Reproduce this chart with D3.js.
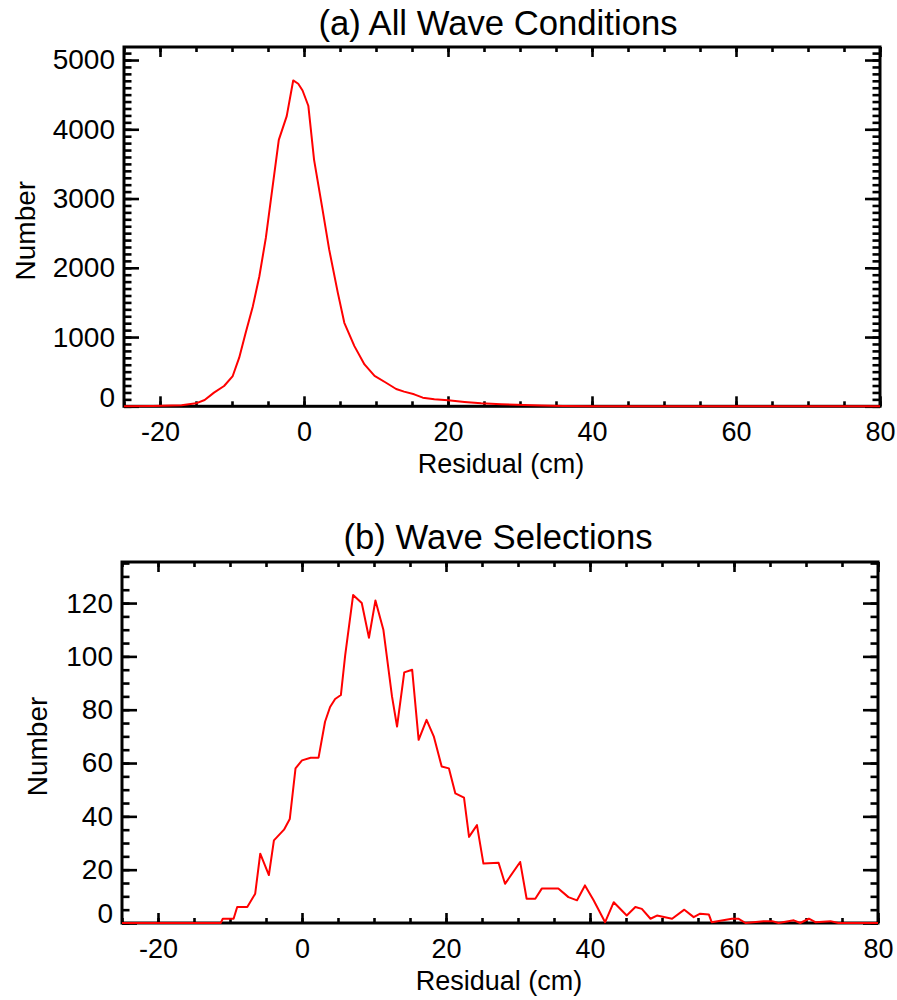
<!DOCTYPE html>
<html>
<head>
<meta charset="utf-8">
<script src="https://cdn.jsdelivr.net/npm/d3@7"></script>
<style>
body { margin: 0; background: #fff; }
text { font-family: "Liberation Sans", Arial, sans-serif; fill: #000; }
</style>
</head>
<body>
<div id="content"></div>
<script>
// (a) all wave conditions
var allResidual = [-25, -21, -17, -15, -13.8, -12.5, -11.1, -9.9, -9.0, -8.1, -7.1, -6.2, -5.3, -4.6, -3.5,
	-2.4, -1.5, -0.8, -0.2, 0.6, 1.4, 2.5, 3.5, 4.7, 5.6, 7.0, 8.4, 9.8, 11.4, 12.8, 13.9, 15.3,
	16.5, 18.1, 20, 22.3, 24.6, 27.4, 30.6, 33, 36, 40, 80];
var allCount = [0, 5, 15, 43, 91, 197, 293, 437, 702, 1062, 1446, 1878, 2431, 2983, 3847,
	4190, 4705, 4657, 4560, 4340, 3559, 2886, 2262, 1638, 1206, 869, 605, 440, 340, 250, 212, 173,
	125, 101, 86, 62, 43, 29, 19, 10, 3, 0, 0];

// (b) wave selections
var selResidual = [-25, -11.3, -11.0, -9.5, -9.0, -7.6, -6.5, -5.8, -4.6, -3.9, -2.5, -1.7, -0.9, 0, 1.2,
	2.3, 3.2, 3.9, 4.6, 5.4, 6.0, 7.1, 8.3, 9.3, 10.2, 11.3, 12.5, 13.2, 14.2, 15.3, 16.2, 17.3,
	18.3, 19.4, 20.4, 21.3, 22.5, 23.2, 24.3, 25.2, 27.3, 28.2, 30.3, 31.2, 32.4, 33.3, 35.6, 37.0,
	38.2, 39.3, 40.5, 42.1, 43.3, 45.1, 46.3, 47.2, 48.4, 49.3, 51.4, 53.1, 54.4, 55.3, 56.5, 56.9,
	59.7, 60.6, 61.6, 64.1, 65.3, 66.2, 68.3, 69.2, 70.4, 71.3, 73.4, 74.5, 80];
var selCount = [0, 0, 1.6, 1.6, 6, 6, 11, 26, 18, 31, 35, 39, 58, 61, 62,
	62, 75.5, 81, 84, 85.5, 100.5, 123, 120, 107, 121, 110, 85, 73.7, 94, 95, 68.7, 76.2,
	70, 58.7, 58, 48.6, 47, 32.3, 36.7, 22.3, 22.6, 14.7, 22.9, 9.1, 9.1, 12.9, 12.9, 9.7,
	8.5, 14.1, 8.5, 0.3, 7.8, 2.8, 6, 5.3, 1.6, 2.8, 1.6, 5, 2.2, 3.5, 3.2, 0.3,
	1.6, 1.6, 0, 0.7, 0.7, 0, 1, 0, 1.6, 0.3, 0.7, 0, 0];

var xMajor = [-20, 0, 20, 40, 60, 80];
var yMajorA = [0, 1000, 2000, 3000, 4000, 5000];
var yMajorB = [0, 20, 40, 60, 80, 100, 120];

var panels = [
	{ title: "(a) All Wave Conditions", xs: allResidual, ys: allCount, yTop: 5188,
	  yMajor: yMajorA, yMinorStep: 100,
	  left: 124, right: 880, top: 47, bottom: 406.3, titleY: 35, numberX: 35 },
	{ title: "(b) Wave Selections", xs: selResidual, ys: selCount, yTop: 135.4,
	  yMajor: yMajorB, yMinorStep: 5,
	  left: 122, right: 878, top: 562, bottom: 923, titleY: 549, numberX: 47 }
];

var svg = d3.select("#content").append("svg")
	.attr("width", 897).attr("height", 1000);

var plain = function (d) { return String(d); };

var styleAxis = function (g) {
	g.select(".domain").remove();
	g.selectAll("line").attr("stroke", "#000").attr("stroke-width", 2.6);
	g.selectAll("text").attr("font-family", "Liberation Sans, Arial, sans-serif")
		.attr("font-size", 27).attr("fill", "#000");
};

var drawPanel = function (p) {
	var x = d3.scaleLinear().domain([-25, 80]).range([p.left, p.right]);
	var y = d3.scaleLinear().domain([0, p.yTop]).range([p.bottom, p.top]);
	var xMinor = d3.range(-25, 81, 5);
	var yMinor = d3.range(0, p.yTop, p.yMinorStep);
	var h = p.bottom - p.top;
	var w = p.right - p.left;

	var g = svg.append("g");

	// minor ticks, all four sides
	g.append("g").attr("transform", "translate(0," + p.bottom + ")")
		.call(d3.axisBottom(x).tickValues(xMinor).tickSizeInner(-5).tickSizeOuter(0).tickFormat(""))
		.call(styleAxis);
	g.append("g").attr("transform", "translate(0," + p.top + ")")
		.call(d3.axisTop(x).tickValues(xMinor).tickSizeInner(-5).tickSizeOuter(0).tickFormat(""))
		.call(styleAxis);
	g.append("g").attr("transform", "translate(" + p.left + ",0)")
		.call(d3.axisLeft(y).tickValues(yMinor).tickSizeInner(-7.5).tickSizeOuter(0).tickFormat(""))
		.call(styleAxis);
	g.append("g").attr("transform", "translate(" + p.right + ",0)")
		.call(d3.axisRight(y).tickValues(yMinor).tickSizeInner(-7.5).tickSizeOuter(0).tickFormat(""))
		.call(styleAxis);

	// major ticks + labels
	var xAx = g.append("g").attr("transform", "translate(0," + p.bottom + ")")
		.call(d3.axisBottom(x).tickValues(xMajor).tickSizeInner(-10).tickSizeOuter(0)
			.tickPadding(16).tickFormat(plain))
		.call(styleAxis);
	g.append("g").attr("transform", "translate(0," + p.top + ")")
		.call(d3.axisTop(x).tickValues(xMajor).tickSizeInner(-10).tickSizeOuter(0).tickFormat(""))
		.call(styleAxis);
	var yAx = g.append("g").attr("transform", "translate(" + p.left + ",0)")
		.call(d3.axisLeft(y).tickValues(p.yMajor).tickSizeInner(-15).tickSizeOuter(0)
			.tickPadding(9).tickFormat(plain))
		.call(styleAxis);
	yAx.selectAll("text").attr("font-size", 28);
	// bottom label sits a little above the axis line
	yAx.selectAll(".tick text").filter(function (d) { return d == 0; }).attr("y", -9);
	g.append("g").attr("transform", "translate(" + p.right + ",0)")
		.call(d3.axisRight(y).tickValues(p.yMajor).tickSizeInner(-15).tickSizeOuter(0).tickFormat(""))
		.call(styleAxis);

	g.append("rect")
		.attr("x", p.left).attr("y", p.top)
		.attr("width", w).attr("height", h)
		.attr("fill", "none").attr("stroke", "#000").attr("stroke-width", 3);

	var line = d3.line()
		.x(function (d) { return x(d[0]); })
		.y(function (d) { return y(d[1]); });

	g.append("path")
		.datum(d3.zip(p.xs, p.ys))
		.attr("d", line)
		.attr("fill", "none")
		.attr("stroke", "#ff0000")
		.attr("stroke-width", 2)
		.attr("stroke-linejoin", "round");

	g.append("text")
		.attr("x", 498).attr("y", p.titleY)
		.attr("text-anchor", "middle").attr("font-size", 34.7)
		.text(p.title);

	g.append("text")
		.attr("x", (p.left + p.right) / 2 - 1).attr("y", p.bottom + 66.5)
		.attr("text-anchor", "middle").attr("font-size", 27)
		.text("Residual (cm)");

	g.append("text")
		.attr("transform", "translate(" + p.numberX + "," + (p.top + h / 2 + 4) + ") rotate(-90)")
		.attr("text-anchor", "middle").attr("font-size", 28)
		.text("Number");
};

panels.forEach(drawPanel);
</script>
</body>
</html>
